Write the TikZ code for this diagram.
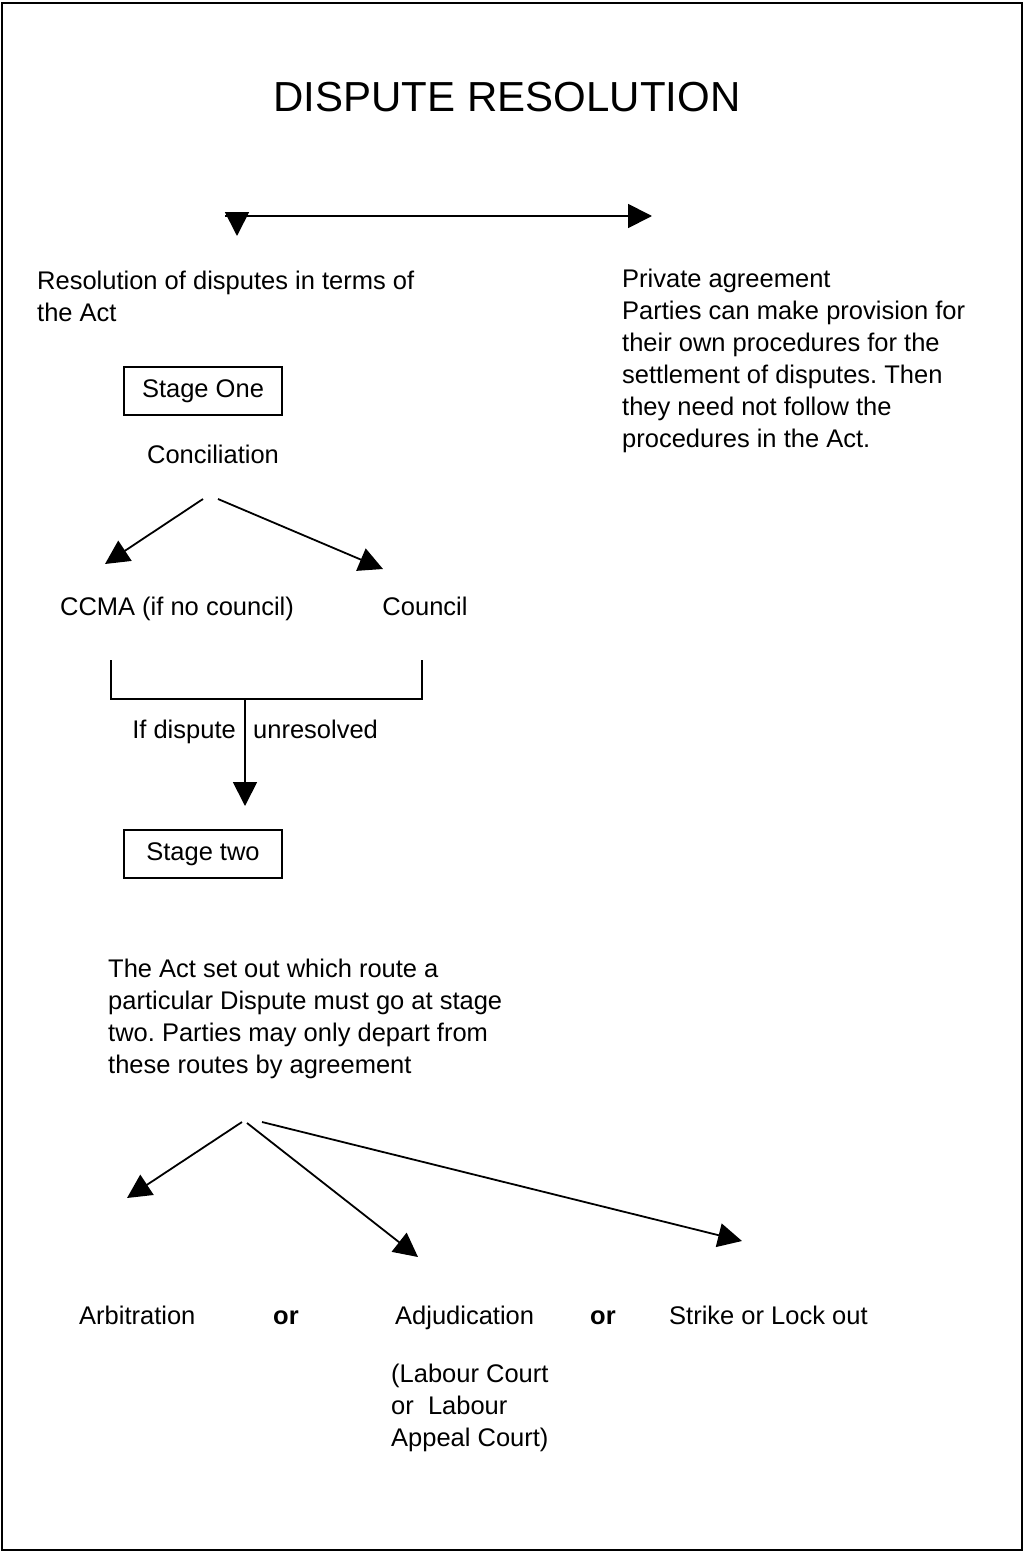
\documentclass[tikz,border=0pt]{standalone}
\usepackage{fontspec}
\setmainfont{Liberation Sans}
\usetikzlibrary{arrows.meta}
\frenchspacing
\tikzset{
  body/.style={font=\fontsize{25.5}{32}\selectfont, inner sep=0pt},
  para/.style={body, align=left, anchor=north west},
  orword/.style={font=\fontsize{25.5}{32}\selectfont\bfseries, inner sep=0pt, anchor=base west},
  stagebox/.style={draw, line width=1.5pt, minimum width=158pt, minimum height=48pt, inner sep=0pt, font=\fontsize{25.5}{32}\selectfont},
  flow/.style={line width=1.8pt, -{Triangle[length=24pt,width=24pt]}},
}
\begin{document}
\begin{tikzpicture}[x=1pt, y=-1pt]
\useasboundingbox (0,0) rectangle (1024,1552);
\draw[line width=2pt] (2,3) rectangle (1022,1550);

\node[font=\fontsize{42}{50}\selectfont, inner sep=0pt, anchor=base] (title) at (507,112) {DISPUTE RESOLUTION};

% the two routes
\coordinate (split-l) at (225,216);
\coordinate (split-r) at (652,216);
\coordinate (down-top) at (237,212);
\coordinate (down-tip) at (237,236);
\draw[flow] (split-l) -- (split-r);
\draw[flow] (down-top) -- (down-tip);

\node[para] (act) at (37,270.5) {Resolution of disputes in terms of\\the Act};
\node[para] (private) at (622,268.5) {Private agreement\\Parties can make provision for\\their own procedures for the\\settlement of disputes. Then\\they need not follow the\\procedures in the Act.};

% stage one
\node[stagebox] (stage1) at (203,391) {Stage One};
\node[body, anchor=base] (concil) at (213,463) {Conciliation};

\coordinate (concil-l) at (203,499);
\coordinate (concil-r) at (218,499);
\coordinate (ccma-tip) at (105,564);
\coordinate (council-tip) at (383,569);
\draw[flow] (concil-l) -- (ccma-tip);
\draw[flow] (concil-r) -- (council-tip);

\node[body, anchor=base] (ccma) at (177,615) {CCMA (if no council)};
\node[body, anchor=base] (council) at (425,615) {Council};

% bracket and stage two
\coordinate (br-l) at (111,660);
\coordinate (br-r) at (422,660);
\coordinate (br-mid) at (245,699);
\coordinate (stage2-tip) at (245,806);
\draw[line width=1.8pt] (br-l) -- ++(0,39) -| (br-r);
\draw[flow] (br-mid) -- (stage2-tip);

\node[body, anchor=base east] (ifdisp) at (236,738) {If dispute};
\node[body, anchor=base west] (unres) at (253,738) {unresolved};

\node[stagebox] (stage2) at (203,854) {Stage two};

\node[para] (route) at (108,958.5) {The Act set out which route a\\particular Dispute must go at stage\\two. Parties may only depart from\\these routes by agreement};

% three outcomes
\coordinate (from-arb) at (242,1122);
\coordinate (from-adj) at (247,1123);
\coordinate (from-strike) at (262,1122);
\coordinate (arb-tip) at (127,1198);
\coordinate (adj-tip) at (418,1257);
\coordinate (strike-tip) at (742,1241);
\foreach \o in {arb, adj, strike}
  \draw[flow] (from-\o) -- (\o-tip);

\node[body, anchor=base west] (arb) at (79,1324) {Arbitration};
\node[orword] (or-a) at (273,1324) {or};
\node[body, anchor=base west] (adj) at (395,1324) {Adjudication};
\node[orword] (or-b) at (590,1324) {or};
\node[body, anchor=base west] (strike) at (669,1324) {Strike or Lock out};
\node[para] (courts) at (391,1363.5) {(Labour Court\\or~~Labour\\Appeal Court)};
\end{tikzpicture}
\end{document}
